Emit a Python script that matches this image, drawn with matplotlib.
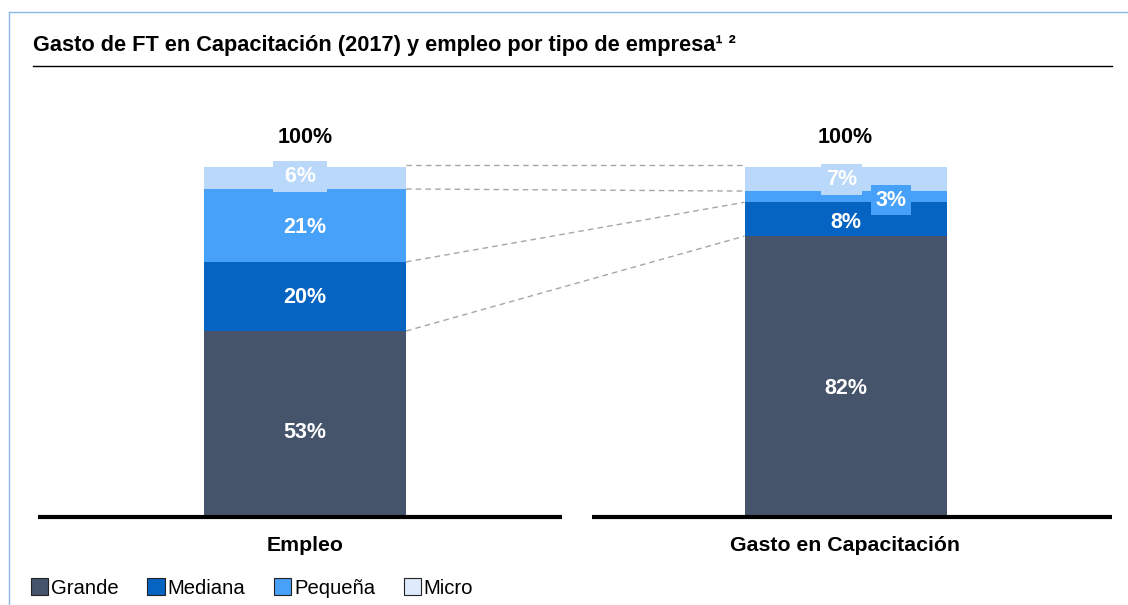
import matplotlib
matplotlib.use("Agg")
import matplotlib.pyplot as plt
from matplotlib.lines import Line2D
from matplotlib.patches import Rectangle
import numpy as np

plt.rcParams['font.family'] = ['Liberation Sans', 'DejaVu Sans']

categories = ["Empleo", "Gasto en Capacitación"]
segments = ["Grande", "Mediana", "Pequeña", "Micro"]
empleo = [53.0, 19.8, 20.9, 6.3]
gasto = [80.2, 9.7, 3.2, 6.9]
empleo_labels = ["53%", "20%", "21%", "6%"]
gasto_labels = ["82%", "8%", "3%", "7%"]
totals = ["100%", "100%"]
colors = ["#45546B", "#0563C1", "#48A1F9", "#B9D8FA"]
legend_colors = ["#45546B", "#0563C1", "#48A1F9", "#DDEBFA"]

W, H = 1128, 605
fig = plt.figure(figsize=(W / 100, H / 100), dpi=100)

# axes so that y=0 at px 516, y=100 at px 167; bar centres at px 305 and 845.5
ax = fig.add_axes([0, (H - 516) / H, 1, 349 / H])
unit = 540.5
ppu = 3.49  # pixels per y unit
ax.set_xlim(-305 / unit, 1 + (W - 845.5) / unit)
ax.set_ylim(0, 100)
ax.axis("off")

bw = 202 / unit
data = [empleo, gasto]
labels = [empleo_labels, gasto_labels]
# label offsets (x in pixels, y in pixels downward)
offsets = {(0, 0): (0, 8.5), (1, 0): (0, 12), (1, 2): (45.5, 3.5),
           (0, 3): (-5, -1.5), (1, 3): (-4, 0.5), (1, 1): (0, 3),
           (0, 1): (0, 1.5), (0, 2): (0, 2.5)}
fs = 15.5
for i, vals in enumerate(data):
    bottoms = np.concatenate([[0], np.cumsum(vals)[:-1]])
    ax.bar([i] * len(vals), vals, bottom=bottoms, width=bw, color=colors,
           edgecolor="none", zorder=2)
    for j, (v, b) in enumerate(zip(vals, bottoms)):
        lab = labels[i][j]
        dx, dy = offsets.get((i, j), (0, 0))
        x = i + dx / unit
        y = b + v / 2 - dy / ppu
        bbox = None
        if j == 3:
            bbox = dict(boxstyle="square,pad=0.24", fc=colors[3], ec="none")
            if i == 0:
                lab = " " + lab + " "
        if i == 1 and j == 2:
            bbox = dict(boxstyle="square,pad=0.22", fc=colors[2], ec="none")
        ax.text(x, y, lab, ha="center", va="center", color="white",
                fontsize=fs, fontweight="bold", zorder=4, bbox=bbox, clip_on=False)
    ax.text(i, 108.4, totals[i], ha="center", va="center", color="black",
            fontsize=fs, fontweight="bold", clip_on=False)

# connectors
e_cum = np.cumsum(empleo)
g_cum = np.cumsum(gasto)
for k in range(4):
    ye = e_cum[k] if k < 3 else 100.6
    yg = g_cum[k] if k < 3 else 100.6
    ax.plot([bw / 2, 1 - bw / 2], [ye, yg], color="#A6A6A6", lw=1,
            ls=(0, (4, 3)), zorder=1, clip_on=False)

# baselines
ax.plot([(38 - 305) / unit, (562 - 305) / unit], [-0.4, -0.4], color="black",
        lw=3, clip_on=False, solid_capstyle="butt", zorder=3)
ax.plot([1 + (592 - 845.5) / unit, 1 + (1112 - 845.5) / unit], [-0.4, -0.4],
        color="black", lw=3, clip_on=False, solid_capstyle="butt", zorder=3)
for i, c in enumerate(categories):
    ax.text(i, -8.5, c, ha="center", va="center", fontsize=15.3,
            fontweight="bold", clip_on=False)

# frame decorations
fig.add_artist(Line2D([9 / W, 9 / W], [0, 1 - 12 / H], color="#8DB9EA", lw=1))
fig.add_artist(Line2D([9 / W, 1], [1 - 12 / H, 1 - 12 / H], color="#8DB9EA", lw=1))

# title
fig.text(33 / W, 1 - 45 / H, "Gasto de FT en Capacitación (2017) y empleo por tipo de empresa¹ ²",
         ha="left", va="center", fontsize=15.7, fontweight="bold")
fig.add_artist(Line2D([33 / W, 1112 / W], [1 - 66 / H, 1 - 66 / H], color="black", lw=1))

# legend
handles = [Rectangle((0, 0), 1, 1, fc=c, ec="#222222", lw=0.8) for c in legend_colors]
leg = fig.legend(handles, segments, loc="center left", bbox_to_anchor=(31 / W, 1 - 588 / H),
                 ncol=4, frameon=False, fontsize=14.6, handlelength=0.85, handleheight=0.85,
                 handletextpad=0.15, columnspacing=1.4, borderaxespad=0, borderpad=0)

fig.savefig("out.png", dpi=100)
